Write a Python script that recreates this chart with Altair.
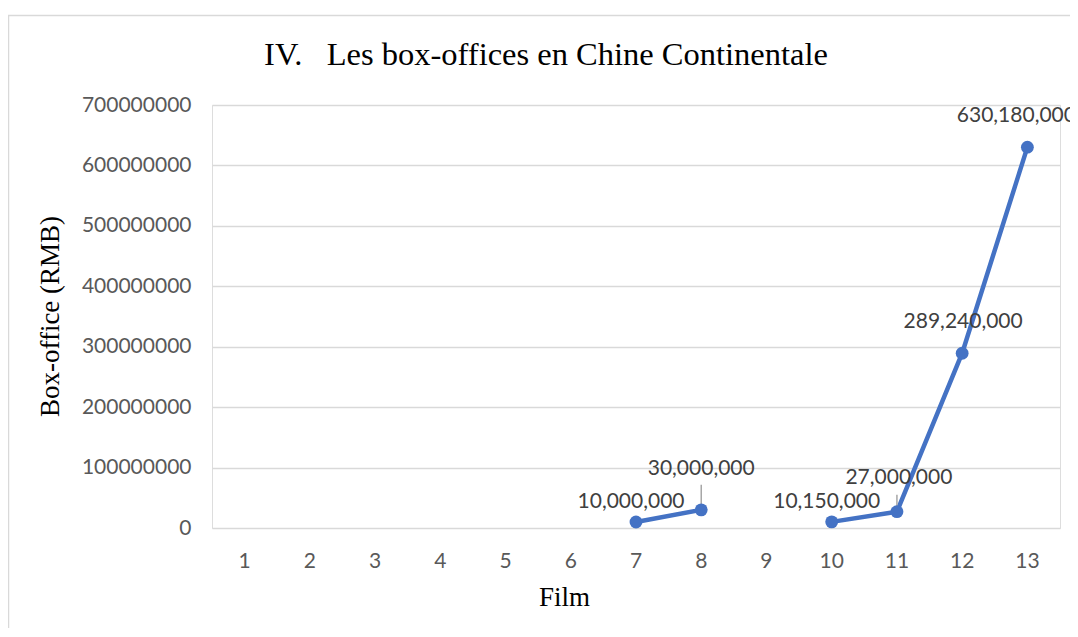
import altair as alt
import pandas as pd

films = list(range(1, 14))
box_office = [None, None, None, None, None, None,
              10000000, 30000000, None, 10150000, 27000000, 289240000, 630180000]
y_ticks = [0, 100000000, 200000000, 300000000, 400000000, 500000000, 600000000, 700000000]

df = pd.DataFrame({"film": films, "box": box_office})
df["seg"] = df["box"].isna().cumsum()
pts = df.dropna().copy()

BLUE = "#4472C4"
LABEL_FONT = "Lato"
SERIF = "Liberation Serif"

x_scale = alt.Scale(type="band", domain=films, paddingInner=0, paddingOuter=0)

x_enc = alt.X("film:O", scale=x_scale,
              axis=alt.Axis(title="Film", labelAngle=0, labelPadding=22, domain=False,
                            ticks=False, tickSize=0, grid=False,
                            labelFont=LABEL_FONT, labelFontSize=21, labelColor="#595959",
                            titleFont=SERIF, titleFontSize=27, titleFontWeight="normal",
                            titleColor="black", titleBaseline="alphabetic",
                            titleX=352, titleY=77, titleAlign="center"))
y_enc = alt.Y("box:Q", scale=alt.Scale(domain=[0, 700000000], nice=False, zero=True),
              axis=alt.Axis(title="Box-office (RMB)", values=y_ticks, format="d",
                            domain=False, ticks=False, tickSize=0, labelPadding=21,
                            grid=True, gridColor="#d9d9d9", gridWidth=1.5,
                            labelFont=LABEL_FONT, labelFontSize=21, labelColor="#595959",
                            titleFont=SERIF, titleFontSize=27, titleFontWeight="normal",
                            titleColor="black", titleBaseline="alphabetic",
                            titleX=-154, titleY=211, titleAlign="center", titleAngle=270))

frame = alt.Chart(alt.Data(values=[{}])).mark_rect(
    fill="white", fillOpacity=0, stroke="#d9d9d9", strokeWidth=1.5
).encode(x=alt.value(-203.5), x2=alt.value(950), y=alt.value(-89.5), y2=alt.value(700))

base = alt.Chart(pts)

line = base.mark_line(color=BLUE, strokeWidth=4.5, strokeCap="round", strokeJoin="round").encode(
    x=x_enc, y=y_enc, detail="seg:N")
points = base.mark_point(filled=True, color=BLUE, size=165, opacity=1, shape="circle").encode(
    x=alt.X("film:O", scale=x_scale), y="box:Q")

leaders = base.transform_filter(alt.FieldOneOfPredicate(field="film", oneOf=[8])).mark_rule(
    color="#a6a6a6", strokeWidth=1.5, yOffset=-25, y2Offset=-3
).encode(x=alt.X("film:O", scale=x_scale), y="box:Q", y2="box:Q")
leaders2 = base.transform_filter(alt.FieldOneOfPredicate(field="film", oneOf=[11])).mark_rule(
    color="#a6a6a6", strokeWidth=1.5, yOffset=-17, y2Offset=-2
).encode(x=alt.X("film:O", scale=x_scale), y="box:Q", y2="box:Q")

label_styles = [([7, 10], -5, -20), ([8], 0, -41), ([11], 2, -34), ([12], 1, -31), ([13], -11, -31)]
labels = []
for ids, dx, dy in label_styles:
    labels.append(
        base.transform_filter(alt.FieldOneOfPredicate(field="film", oneOf=ids)).mark_text(
            font=LABEL_FONT, fontSize=21, color="#404040", dx=dx, dy=dy, baseline="middle"
        ).encode(x=alt.X("film:O", scale=x_scale), y="box:Q",
                 text=alt.Text("box:Q", format=","))
    )

chart = alt.layer(frame, line, leaders, leaders2, points, *labels).properties(
    width=848, height=423,
    title=alt.TitleParams(text="IV.\u00a0\u00a0\u00a0Les box-offices en Chine Continentale",
                          font=SERIF, fontSize=32.5, fontWeight="normal", color="black",
                          anchor="middle", frame="group", dx=-90, baseline="alphabetic",
                          offset=-83),
    autosize=alt.AutoSizeParams(type="none"),
    padding={"left": 204, "top": 97, "right": 10, "bottom": 100},
).configure_view(stroke=None).configure(background="white")

chart.save("out.html", embed_options={"renderer": "svg", "actions": False})
